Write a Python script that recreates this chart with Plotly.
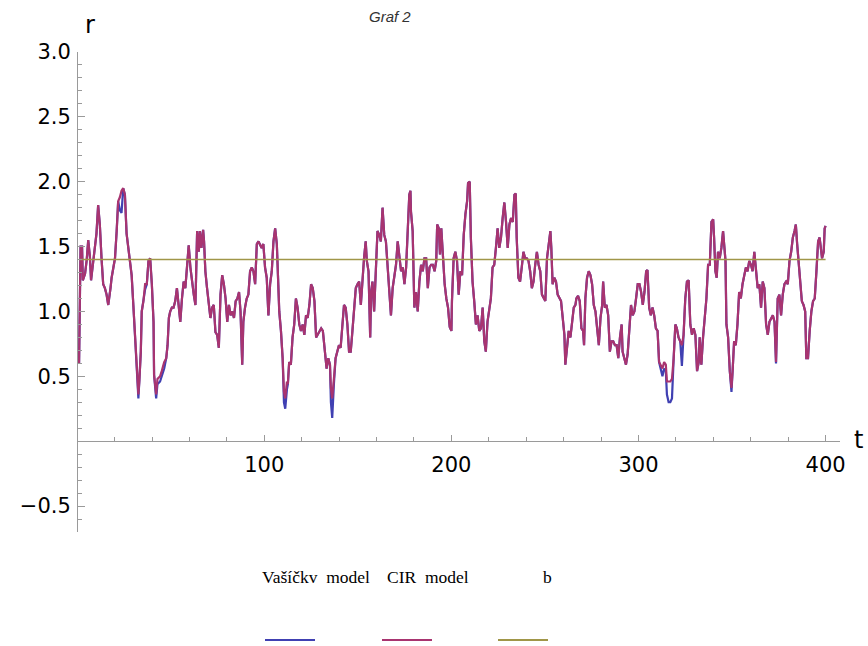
import plotly.graph_objects as go

# ---------------- data ----------------
t = [
    1.0, 1.3, 1.8, 2.6, 3.0, 4.2, 5.1, 5.9, 6.8, 7.4,
    8.6, 9.5, 10.3, 11.2, 12.1, 13.0, 13.9, 14.8, 15.7, 16.6,
    17.1, 17.8, 18.4, 19.3, 20.2, 21.1, 21.9, 22.8, 23.7, 24.6,
    25.5, 26.4, 27.3, 28.2, 29.1, 30.0, 30.9, 31.8, 32.7, 33.2,
    34.0, 34.5, 35.4, 36.3, 37.2, 38.1, 39.0, 39.9, 40.8, 41.1,
    42.2, 42.9, 44.3, 45.2, 46.5, 47.6, 48.3, 49.0, 49.7, 50.6,
    51.5, 52.4, 53.3, 54.2, 55.1, 56.0, 56.9, 57.8, 58.7, 59.6,
    60.5, 61.4, 62.3, 63.2, 64.1, 65.0, 65.6, 66.4, 67.3, 67.8,
    68.5, 69.4, 70.3, 71.2, 72.1, 73.0, 73.9, 74.8, 75.7, 76.6,
    77.5, 78.4, 79.3, 80.2, 81.1, 82.0, 82.9, 83.8, 84.7, 85.6,
    86.5, 87.3, 88.2, 88.8, 89.7, 90.6, 91.5, 92.4, 93.3, 94.2,
    95.1, 96.0, 96.9, 97.7, 98.6, 99.5, 100.4, 101.3, 102.2, 103.1,
    104.0, 104.9, 105.8, 106.7, 107.2, 108.0, 108.9, 109.8, 110.5, 111.2,
    112.1, 112.6, 113.3, 114.2, 115.1, 116.0, 116.9, 117.8, 118.7, 119.6,
    120.5, 121.4, 122.3, 123.2, 124.1, 125.0, 125.9, 126.8, 127.7, 128.6,
    129.5, 130.4, 131.3, 132.2, 133.3, 134.2, 135.1, 135.6, 136.3, 137.2,
    138.1, 139.0, 139.9, 140.8, 141.7, 142.6, 143.5, 144.4, 145.3, 146.2,
    147.1, 148.0, 148.9, 149.8, 150.7, 151.6, 152.5, 153.3, 154.2, 154.8,
    155.7, 156.6, 157.1, 157.8, 158.7, 159.6, 160.5, 161.4, 162.3, 163.2,
    164.1, 165.0, 165.9, 166.8, 167.7, 168.6, 169.5, 170.4, 171.3, 172.2,
    173.1, 174.0, 174.9, 175.8, 176.7, 177.5, 178.1, 178.4, 179.3, 180.2,
    181.1, 182.0, 182.9, 183.8, 184.7, 185.6, 186.5, 187.4, 188.3, 189.2,
    190.1, 191.0, 191.9, 192.4, 193.3, 193.9, 194.6, 195.5, 196.4, 197.3,
    198.2, 199.1, 200.0, 200.3, 201.2, 202.1, 203.0, 203.9, 204.8, 205.7,
    206.6, 207.5, 208.4, 208.9, 209.8, 210.4, 211.3, 212.2, 213.1, 214.0,
    214.9, 215.8, 216.7, 217.6, 218.4, 219.3, 220.2, 221.1, 222.0, 222.9,
    223.8, 224.7, 225.6, 226.5, 227.4, 228.3, 229.2, 230.1, 231.0, 231.9,
    232.8, 233.7, 234.4, 234.9, 235.8, 236.7, 237.6, 238.5, 239.4, 240.3,
    241.2, 242.1, 243.0, 243.9, 244.8, 245.7, 246.6, 247.5, 248.4, 249.3,
    250.2, 251.1, 252.0, 252.9, 253.4, 254.1, 255.0, 255.9, 256.8, 257.7,
    258.6, 259.5, 260.4, 260.9, 261.8, 262.7, 263.6, 264.5, 265.4, 266.3,
    266.8, 267.7, 268.6, 269.5, 270.4, 270.9, 271.6, 272.5, 273.4, 274.3,
    275.2, 276.1, 277.0, 277.9, 278.8, 279.7, 280.6, 281.1, 282.0, 282.9,
    283.8, 284.7, 285.6, 286.5, 287.4, 288.3, 289.2, 290.1, 291.0, 291.5,
    292.4, 293.3, 294.2, 295.1, 296.0, 296.9, 297.8, 298.7, 299.6, 300.5,
    301.4, 302.3, 303.2, 304.1, 304.8, 305.7, 306.6, 307.5, 308.4, 309.3,
    310.2, 311.0, 311.9, 312.8, 313.7, 314.6, 315.2, 316.1, 317.0, 317.9,
    318.8, 319.7, 320.5, 321.4, 322.3, 323.2, 324.1, 325.0, 325.9, 326.8,
    327.7, 328.6, 329.5, 330.4, 331.3, 332.2, 332.7, 333.6, 334.5, 335.4,
    336.3, 337.2, 338.1, 339.0, 339.9, 340.4, 341.1, 341.8, 342.5, 343.4,
    344.3, 345.2, 345.8, 346.5, 347.0, 347.9, 348.8, 349.7, 350.3, 351.1,
    352.0, 352.9, 353.8, 354.7, 355.6, 356.5, 357.4, 358.3, 359.2, 360.1,
    361.0, 361.9, 362.8, 363.7, 364.6, 365.5, 366.4, 367.3, 368.2, 369.1,
    370.0, 370.9, 371.8, 372.7, 373.5, 374.4, 375.3, 376.2, 377.1, 378.0,
    378.9, 379.8, 380.7, 381.6, 382.5, 383.4, 384.1, 384.8, 385.6, 386.5,
    387.3, 388.2, 389.1, 389.7, 390.6, 391.5, 392.4, 393.3, 394.2, 395.1,
    396.0, 396.8, 397.6, 398.1, 399.0, 399.5, 400.0,
]

cir = [
    0.60, 1.24, 1.50, 1.50, 1.24, 1.29, 1.40, 1.55, 1.42, 1.24,
    1.40, 1.47, 1.60, 1.82, 1.67, 1.41, 1.21, 1.18, 1.13, 1.05,
    1.13, 1.18, 1.26, 1.34, 1.41, 1.62, 1.85, 1.88, 1.93, 1.95,
    1.90, 1.60, 1.49, 1.36, 1.28, 1.05, 0.82, 0.54, 0.36, 0.46,
    0.69, 1.00, 1.08, 1.21, 1.21, 1.39, 1.41, 1.21, 0.92, 0.51,
    0.36, 0.48, 0.50, 0.54, 0.61, 0.64, 0.74, 0.95, 1.00, 1.03,
    1.03, 1.08, 1.18, 1.05, 0.92, 1.10, 1.23, 1.18, 1.39, 1.51,
    1.34, 1.21, 1.13, 1.05, 1.62, 1.46, 1.62, 1.49, 1.63, 1.54,
    1.31, 1.18, 1.05, 0.95, 1.03, 1.05, 0.84, 0.82, 0.72, 1.13,
    1.28, 1.21, 1.10, 0.92, 1.05, 0.97, 1.00, 0.95, 1.08, 1.10,
    1.15, 1.00, 0.59, 0.92, 1.03, 1.10, 1.13, 1.31, 1.34, 1.31,
    1.21, 1.52, 1.54, 1.52, 1.49, 1.52, 1.34, 1.26, 0.97, 1.21,
    1.31, 1.54, 1.64, 1.52, 1.36, 1.00, 0.85, 0.64, 0.38, 0.33,
    0.46, 0.44, 0.61, 0.59, 0.80, 0.90, 1.10, 1.03, 0.90, 0.85,
    0.90, 0.82, 0.97, 0.95, 1.05, 1.21, 1.18, 1.08, 0.80, 0.82,
    0.85, 0.87, 0.85, 0.69, 0.56, 0.64, 0.59, 0.41, 0.33, 0.48,
    0.64, 0.69, 0.74, 0.72, 0.87, 1.05, 1.03, 0.90, 0.69, 0.69,
    0.85, 1.00, 1.18, 1.21, 1.23, 1.05, 1.28, 1.41, 1.54, 1.39,
    1.31, 0.80, 1.15, 1.23, 1.00, 1.39, 1.62, 1.59, 1.54, 1.80,
    1.59, 1.54, 1.34, 1.21, 0.97, 1.18, 1.26, 1.36, 1.54, 1.41,
    1.31, 1.34, 1.21, 1.34, 1.70, 1.90, 1.93, 1.77, 1.62, 1.03,
    1.15, 1.00, 1.23, 1.36, 1.31, 1.41, 1.41, 1.18, 1.34, 1.36,
    1.36, 1.31, 1.39, 1.67, 1.64, 1.44, 1.64, 1.41, 1.21, 1.10,
    1.03, 0.88, 0.85, 1.08, 1.41, 1.46, 1.39, 1.13, 1.31, 1.28,
    1.59, 1.75, 1.85, 1.99, 2.00, 1.57, 1.23, 1.08, 0.90, 0.97,
    0.85, 0.87, 1.03, 0.77, 0.69, 0.92, 1.00, 1.10, 1.34, 1.36,
    1.49, 1.64, 1.49, 1.57, 1.72, 1.84, 1.69, 1.49, 1.67, 1.72,
    1.69, 1.90, 1.91, 1.57, 1.26, 1.23, 1.34, 1.46, 1.41, 1.41,
    1.39, 1.31, 1.18, 1.23, 1.36, 1.46, 1.36, 1.31, 1.13, 1.10,
    1.08, 1.41, 1.52, 1.62, 1.49, 1.21, 1.26, 1.23, 1.13, 1.10,
    1.08, 0.95, 0.82, 0.59, 0.74, 0.85, 0.80, 0.90, 1.03, 1.05,
    1.10, 1.12, 1.08, 0.87, 0.85, 0.74, 1.10, 1.26, 1.31, 1.28,
    1.21, 1.05, 1.00, 0.87, 0.74, 0.95, 1.05, 1.23, 1.03, 1.05,
    0.97, 0.69, 0.77, 0.77, 0.74, 0.74, 0.64, 0.80, 0.90, 0.69,
    0.64, 0.59, 0.67, 0.90, 1.05, 0.97, 1.00, 1.10, 1.21, 1.21,
    1.15, 1.05, 1.15, 1.31, 1.32, 1.03, 0.97, 1.03, 0.97, 0.87,
    0.85, 0.61, 0.59, 0.56, 0.61, 0.59, 0.46, 0.46, 0.46, 0.48,
    0.64, 0.90, 0.87, 0.80, 0.77, 0.74, 0.82, 1.10, 1.23, 1.24,
    0.90, 0.82, 0.87, 0.82, 0.54, 0.61, 0.80, 0.59, 0.80, 0.97,
    1.10, 1.36, 1.36, 1.69, 1.71, 1.57, 1.31, 1.26, 1.46, 1.41,
    1.49, 1.62, 1.49, 1.39, 0.90, 0.80, 0.54, 0.41, 0.54, 0.77,
    0.74, 0.90, 1.15, 1.10, 1.21, 1.28, 1.34, 1.31, 1.39, 1.36,
    1.31, 1.46, 1.34, 1.18, 1.21, 1.03, 1.23, 1.18, 0.90, 0.82,
    0.92, 0.95, 0.97, 0.92, 0.61, 1.10, 1.13, 0.97, 1.13, 1.21,
    1.23, 1.21, 1.39, 1.46, 1.57, 1.62, 1.67, 1.52, 1.36, 1.21,
    1.08, 1.05, 1.00, 0.64, 0.64, 0.85, 1.00, 1.08, 1.10, 1.31,
    1.54, 1.57, 1.46, 1.41, 1.46, 1.64, 1.66,
]

vasicek = [
    0.60, 1.24, 1.50, 1.50, 1.24, 1.29, 1.40, 1.55, 1.42, 1.24,
    1.40, 1.47, 1.60, 1.82, 1.67, 1.41, 1.21, 1.18, 1.13, 1.05,
    1.13, 1.18, 1.26, 1.34, 1.41, 1.62, 1.85, 1.78, 1.76, 1.95,
    1.90, 1.60, 1.49, 1.36, 1.28, 1.05, 0.82, 0.54, 0.33, 0.46,
    0.69, 1.00, 1.08, 1.17, 1.21, 1.39, 1.41, 1.21, 0.92, 0.51,
    0.33, 0.44, 0.46, 0.50, 0.56, 0.64, 0.74, 0.95, 1.00, 1.03,
    1.03, 1.08, 1.18, 1.05, 0.92, 1.10, 1.23, 1.18, 1.39, 1.51,
    1.34, 1.21, 1.13, 1.05, 1.62, 1.46, 1.62, 1.49, 1.63, 1.54,
    1.31, 1.18, 1.05, 0.95, 1.03, 1.05, 0.84, 0.82, 0.72, 1.13,
    1.28, 1.21, 1.10, 0.92, 1.05, 0.97, 1.00, 0.95, 1.08, 1.10,
    1.15, 1.00, 0.59, 0.92, 1.03, 1.10, 1.13, 1.31, 1.34, 1.31,
    1.21, 1.52, 1.54, 1.52, 1.49, 1.52, 1.34, 1.26, 0.97, 1.21,
    1.31, 1.54, 1.64, 1.52, 1.36, 1.00, 0.85, 0.64, 0.30, 0.25,
    0.40, 0.44, 0.61, 0.59, 0.80, 0.90, 1.10, 1.03, 0.90, 0.85,
    0.90, 0.82, 0.97, 0.95, 1.05, 1.21, 1.18, 1.08, 0.80, 0.82,
    0.85, 0.87, 0.85, 0.69, 0.56, 0.64, 0.59, 0.30, 0.18, 0.44,
    0.64, 0.69, 0.74, 0.72, 0.87, 1.05, 1.03, 0.90, 0.69, 0.69,
    0.85, 1.00, 1.18, 1.21, 1.23, 1.05, 1.28, 1.41, 1.54, 1.39,
    1.31, 0.80, 1.15, 1.23, 1.00, 1.39, 1.62, 1.59, 1.54, 1.80,
    1.59, 1.54, 1.34, 1.21, 0.97, 1.18, 1.26, 1.36, 1.54, 1.41,
    1.31, 1.34, 1.21, 1.34, 1.70, 1.90, 1.93, 1.77, 1.62, 1.03,
    1.15, 1.00, 1.23, 1.36, 1.31, 1.41, 1.41, 1.18, 1.34, 1.36,
    1.36, 1.31, 1.39, 1.67, 1.64, 1.44, 1.64, 1.41, 1.21, 1.10,
    1.03, 0.88, 0.85, 1.08, 1.41, 1.46, 1.39, 1.13, 1.31, 1.28,
    1.59, 1.75, 1.85, 1.99, 2.00, 1.57, 1.23, 1.08, 0.90, 0.97,
    0.85, 0.87, 1.03, 0.77, 0.69, 0.92, 1.00, 1.10, 1.34, 1.36,
    1.49, 1.64, 1.49, 1.57, 1.72, 1.84, 1.69, 1.49, 1.67, 1.72,
    1.69, 1.90, 1.91, 1.57, 1.26, 1.23, 1.34, 1.46, 1.41, 1.41,
    1.39, 1.31, 1.18, 1.23, 1.36, 1.46, 1.36, 1.31, 1.13, 1.10,
    1.08, 1.41, 1.52, 1.62, 1.49, 1.21, 1.26, 1.23, 1.13, 1.10,
    1.08, 0.95, 0.82, 0.59, 0.74, 0.85, 0.80, 0.90, 1.03, 1.05,
    1.10, 1.12, 1.08, 0.87, 0.85, 0.74, 1.10, 1.26, 1.31, 1.28,
    1.21, 1.05, 1.00, 0.87, 0.74, 0.95, 1.05, 1.23, 1.03, 1.05,
    0.97, 0.69, 0.77, 0.77, 0.74, 0.74, 0.64, 0.80, 0.90, 0.69,
    0.64, 0.59, 0.67, 0.90, 1.05, 0.97, 1.00, 1.10, 1.21, 1.21,
    1.15, 1.05, 1.15, 1.31, 1.32, 1.03, 0.97, 1.03, 0.97, 0.87,
    0.85, 0.61, 0.55, 0.50, 0.56, 0.54, 0.36, 0.30, 0.30, 0.33,
    0.64, 0.90, 0.87, 0.80, 0.77, 0.58, 0.82, 1.10, 1.23, 1.24,
    0.90, 0.82, 0.87, 0.82, 0.54, 0.61, 0.80, 0.59, 0.80, 0.97,
    1.10, 1.36, 1.36, 1.69, 1.71, 1.57, 1.31, 1.26, 1.46, 1.41,
    1.49, 1.62, 1.49, 1.39, 0.90, 0.80, 0.54, 0.38, 0.54, 0.77,
    0.74, 0.90, 1.15, 1.10, 1.21, 1.28, 1.34, 1.31, 1.39, 1.36,
    1.31, 1.46, 1.34, 1.18, 1.21, 1.03, 1.23, 1.18, 0.90, 0.82,
    0.92, 0.95, 0.97, 0.92, 0.60, 1.10, 1.13, 0.97, 1.13, 1.21,
    1.23, 1.21, 1.39, 1.46, 1.57, 1.62, 1.67, 1.52, 1.36, 1.21,
    1.08, 1.05, 1.00, 0.64, 0.64, 0.85, 1.00, 1.08, 1.10, 1.31,
    1.54, 1.57, 1.46, 1.41, 1.46, 1.64, 1.66,
]

b_level = 1.4
x_tick_vals = [100, 200, 300, 400]
y_tick_vals = [-0.5, 0.5, 1.0, 1.5, 2.0, 2.5, 3.0]
y_tick_text = ["\u22120.5", "0.5", "1.0", "1.5", "2.0", "2.5", "3.0"]
series_names = ["Vašíčkv\u00a0 model", "CIR\u00a0 model", "b"]
title_text = "Graf 2"

# ---------------- styling ----------------
COL_V = "rgb(64,64,178)"
COL_C = "rgb(168,52,112)"
COL_B = "rgb(160,150,72)"
AXIS_COL = "#9a9a9a"
TICK_FONT = dict(family="DejaVu Sans", size=21, color="black")

X_RANGE = [0.43, 407.7]
Y_RANGE = [-0.70, 3.0]
W, H = 868, 646
ML, MR, MT, MB = 78, 28, 52, 114
PW, PH = W - ML - MR, H - MT - MB


def px(xp):
    return (xp - ML) / PW


def py(yp):
    return (H - MB - yp) / PH


fig = go.Figure()
fig.add_trace(go.Scatter(x=t, y=vasicek, mode="lines", name=series_names[0],
                         line=dict(color=COL_V, width=2.2)))
fig.add_trace(go.Scatter(x=t, y=cir, mode="lines", name=series_names[1],
                         line=dict(color=COL_C, width=2.2)))
fig.add_trace(go.Scatter(x=[t[0], t[-1]], y=[b_level, b_level], mode="lines",
                         name=series_names[2], line=dict(color=COL_B, width=1.6)))

zero_pos = (0 - Y_RANGE[0]) / (Y_RANGE[1] - Y_RANGE[0])

fig.update_layout(
    width=W, height=H,
    margin=dict(l=ML, r=MR, t=MT, b=MB, pad=0),
    paper_bgcolor="white", plot_bgcolor="white",
    showlegend=False,
    xaxis=dict(
        range=X_RANGE, anchor="free", position=zero_pos,
        showgrid=False, zeroline=False, showline=True,
        linecolor=AXIS_COL, linewidth=1,
        tickmode="array", tickvals=x_tick_vals,
        ticks="inside", ticklen=6, tickcolor=AXIS_COL, tickwidth=1,
        tickfont=TICK_FONT, ticklabelstandoff=5,
        minor=dict(tickmode="linear", tick0=0, dtick=20, ticks="inside",
                   ticklen=4, tickcolor=AXIS_COL, showgrid=False),
    ),
    yaxis=dict(
        range=Y_RANGE,
        showgrid=False, zeroline=False, showline=True,
        linecolor=AXIS_COL, linewidth=1,
        tickmode="array", tickvals=y_tick_vals, ticktext=y_tick_text,
        ticks="inside", ticklen=7, tickcolor=AXIS_COL, tickwidth=1,
        tickfont=TICK_FONT, ticklabelstandoff=2,
        minor=dict(tickmode="linear", tick0=0, dtick=0.1, ticks="inside",
                   ticklen=4, tickcolor=AXIS_COL, showgrid=False),
    ),
)

annotations = [
    dict(text="<i>" + title_text + "</i>", x=px(390), y=py(16), xref="paper", yref="paper",
         showarrow=False, xanchor="center", yanchor="middle",
         font=dict(family="Liberation Sans", size=15, color="#333333")),
    dict(text="r", x=px(90), y=py(25), xref="paper", yref="paper",
         showarrow=False, xanchor="center", yanchor="middle",
         font=dict(family="DejaVu Sans", size=24, color="black")),
    dict(text="t", x=px(858), y=py(440), xref="paper", yref="paper",
         showarrow=False, xanchor="center", yanchor="middle",
         font=dict(family="DejaVu Sans", size=24, color="black")),
]
legend_text_x = [316, 428, 547]
legend_line_x = [(265, 315), (382, 432), (498, 548)]
legend_cols = [COL_V, COL_C, COL_B]
for name, cx in zip(series_names, legend_text_x):
    annotations.append(dict(text=name, x=px(cx), y=py(577), xref="paper", yref="paper",
                            showarrow=False, xanchor="center", yanchor="middle",
                            font=dict(family="Liberation Serif", size=17.5, color="black")))
shapes = []
for (x0, x1), col in zip(legend_line_x, legend_cols):
    shapes.append(dict(type="line", xref="paper", yref="paper",
                       x0=px(x0), x1=px(x1), y0=py(640), y1=py(640),
                       line=dict(color=col, width=2)))
fig.update_layout(annotations=annotations, shapes=shapes)

fig.write_html("out.html", config={"displayModeBar": False},
               post_script="document.body.style.margin='0';")
